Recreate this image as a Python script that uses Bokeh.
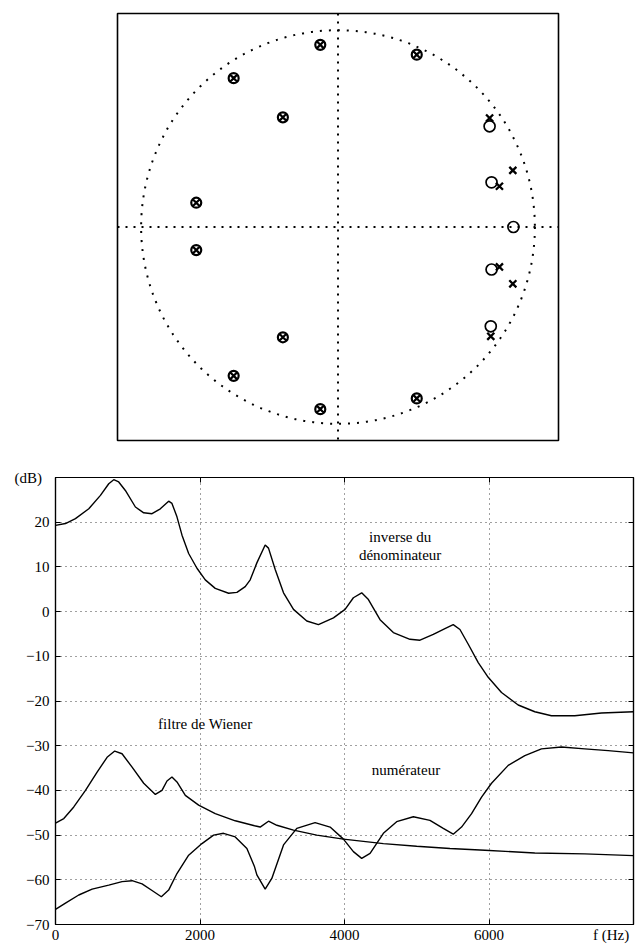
from bokeh.plotting import figure
from bokeh.layouts import column
from bokeh.models import Span, Label, FixedTicker, LinearAxis, Range1d
from bokeh.embed import file_html
from bokeh.resources import INLINE

# ---------------- data: pole/zero diagram ----------------
common_re = [-0.09, 0.40, -0.53, -0.28, -0.72, -0.72, -0.28, -0.53, -0.09, 0.40]
common_im = [0.93, 0.88, 0.76, 0.56, 0.124, -0.118, -0.563, -0.76, -0.93, -0.875]
zeros_re = [0.77, 0.78, 0.891, 0.78, 0.776]
zeros_im = [0.514, 0.228, 0.0, -0.217, -0.507]
poles_re = [0.77, 0.888, 0.82, 0.82, 0.888, 0.776]
poles_im = [0.556, 0.289, 0.208, -0.204, -0.29, -0.558]
unit_radius = 1.0

# ---------------- data: frequency responses ----------------
den_f = [0, 138, 276, 461, 622, 737, 806, 875, 967, 1106, 1221, 1336, 1451, 1566, 1612,
         1681, 1751, 1843, 1958, 2073, 2211, 2396, 2511, 2626, 2695, 2787, 2902, 2948,
         3041, 3156, 3294, 3478, 3639, 3847, 4008, 4123, 4238, 4331, 4492, 4676, 4906,
         5045, 5229, 5390, 5505, 5598, 5713, 5851, 5989, 6173, 6404, 6634, 6864, 7187,
         7556, 8000]
den_db = [19.3, 19.7, 20.8, 23.0, 26.0, 28.6, 29.5, 29.0, 27.1, 23.4, 22.1, 21.9, 23.0,
          24.7, 24.2, 21.2, 17.1, 13.0, 9.7, 7.1, 5.2, 4.1, 4.3, 5.6, 7.1, 10.9, 14.9,
          14.2, 9.4, 4.2, 0.5, -2.1, -2.9, -1.4, 0.5, 3.1, 4.2, 2.7, -1.8, -4.7, -6.2,
          -6.4, -5.1, -3.8, -2.9, -4.0, -7.3, -11.4, -14.7, -18.1, -20.9, -22.4, -23.3,
          -23.3, -22.7, -22.4]

wien_f = [0, 115, 253, 415, 576, 714, 820, 921, 1060, 1221, 1382, 1474, 1543, 1612, 1681,
          1797, 1981, 2211, 2488, 2755, 2833, 2948, 3064, 3294, 3616, 3985, 4538, 4999,
          5459, 5943, 6634, 7325, 8000]
wien_db = [-47.3, -46.3, -43.7, -40.0, -35.9, -32.6, -31.2, -31.8, -34.8, -38.4, -40.9,
           -40.0, -37.9, -37.0, -38.1, -41.1, -43.3, -45.2, -46.8, -47.9, -48.2, -46.9,
           -47.8, -48.9, -50.0, -50.9, -51.9, -52.5, -53.0, -53.4, -54.0, -54.2, -54.6]

num_f = [0, 138, 322, 507, 737, 921, 1060, 1198, 1336, 1465, 1566, 1681, 1843, 2027, 2188,
         2326, 2488, 2649, 2755, 2787, 2902, 2994, 3156, 3340, 3593, 3801, 3985, 4123,
         4238, 4354, 4538, 4722, 4953, 5183, 5367, 5505, 5620, 5759, 5897, 6035, 6266,
         6496, 6726, 7003, 7325, 7648, 8000]
num_db = [-66.6, -65.2, -63.4, -62.1, -61.2, -60.4, -60.2, -60.9, -62.4, -63.8, -62.3,
          -58.6, -54.5, -51.9, -50.0, -49.6, -50.4, -53.0, -57.1, -58.9, -62.1, -59.7,
          -52.2, -48.5, -47.2, -48.2, -50.9, -53.7, -55.2, -54.1, -49.6, -47.0, -45.9,
          -46.7, -48.5, -49.8, -48.2, -45.2, -41.5, -38.4, -34.4, -32.2, -30.7, -30.3,
          -30.7, -31.1, -31.6]

x_ticks = [0, 2000, 4000, 6000, 8000]
y_ticks = [-70, -60, -50, -40, -30, -20, -10, 0, 10, 20, 30]
NB = "\u00a0"
x_unit_label = "f (Hz)"
y_unit_label = "(dB)"

FONT = "Liberation Serif"
FS = "15px"

# ---------------- top: pole/zero plot ----------------
p1 = figure(width=640, height=445, x_range=Range1d(-1.12, 1.12), y_range=Range1d(-1.09, 1.09),
            output_backend="svg", toolbar_location=None,
            x_axis_location=None, y_axis_location=None,
            min_border_left=117, min_border_right=82, min_border_top=13, min_border_bottom=5)
p1.grid.visible = False
p1.outline_line_color = "black"
p1.outline_line_width = 1.6

p1.circle(x=[0], y=[0], radius=unit_radius, fill_color=None, line_color="black",
          line_width=2, line_dash="2 7")
p1.add_layout(Span(location=0, dimension="width", line_color="black", line_width=2, line_dash="2 6"))
p1.add_layout(Span(location=0, dimension="height", line_color="black", line_width=2, line_dash="2 6"))

p1.scatter(common_re, common_im, marker="circle_x", size=10, fill_color=None,
           line_color="black", line_width=2.2)
p1.scatter(zeros_re, zeros_im, marker="circle", size=11, fill_color=None,
           line_color="black", line_width=1.7)
p1.scatter(poles_re, poles_im, marker="x", size=10, line_color="black", line_width=2.3)

# ---------------- bottom: frequency responses ----------------
p2 = figure(width=640, height=500, x_range=Range1d(0, 8000), y_range=Range1d(-70, 30),
            output_backend="svg", toolbar_location=None,
            min_border_left=55, min_border_right=7, min_border_top=32, min_border_bottom=20)
p2.outline_line_color = "black"
p2.outline_line_width = 1.2

for p in (p1, p2):
    if "frame_align" in p.properties():
        p.frame_align = False

for ax in (p2.xaxis[0], p2.yaxis[0]):
    ax.major_label_text_font = FONT
    ax.major_label_text_font_size = FS
    ax.major_label_text_color = "black"
    ax.major_tick_in = 5
    ax.major_tick_out = 0
    ax.minor_tick_line_color = None
    ax.axis_line_color = "black"
    ax.axis_line_width = 1.2

p2.xaxis[0].ticker = FixedTicker(ticks=x_ticks)
p2.yaxis[0].ticker = FixedTicker(ticks=y_ticks)
p2.xaxis[0].major_label_overrides = {8000: x_unit_label + NB * 3}
p2.yaxis[0].major_label_overrides = {30: y_unit_label + NB * 2}
p2.xaxis[0].major_label_standoff = 2
p2.yaxis[0].major_label_standoff = 6

for loc, tk in (("right", y_ticks), ("above", x_ticks)):
    ax = LinearAxis(ticker=FixedTicker(ticks=tk), major_label_text_font_size="1px",
                    major_label_overrides={t: "" for t in tk},
                    major_label_standoff=0, major_tick_in=5, major_tick_out=0,
                    minor_tick_line_color=None, axis_line_color="black", axis_line_width=1.2)
    p2.add_layout(ax, loc)

p2.xgrid.ticker = FixedTicker(ticks=x_ticks)
p2.ygrid.ticker = FixedTicker(ticks=y_ticks)
p2.grid.grid_line_color = "black"
p2.grid.grid_line_alpha = 0.75
p2.grid.grid_line_dash = "1 4"
p2.grid.grid_line_width = 1

p2.line(den_f, den_db, line_color="black", line_width=1.4)
p2.line(wien_f, wien_db, line_color="black", line_width=1.4)
p2.line(num_f, num_db, line_color="black", line_width=1.4)

def lab(x, y, text):
    p2.add_layout(Label(x=x, y=y, text=text, text_font=FONT, text_font_size=FS,
                        text_color="black", text_align="center", text_baseline="middle"))

lab(4770, 16.7, "inverse du")
lab(4770, 12.7, "dénominateur")
lab(2073, -25.1, "filtre de Wiener")
lab(4851, -35.5, "numérateur")

layout = column(p1, p2, spacing=0)
open("out.html", "w").write(file_html(layout, INLINE))
